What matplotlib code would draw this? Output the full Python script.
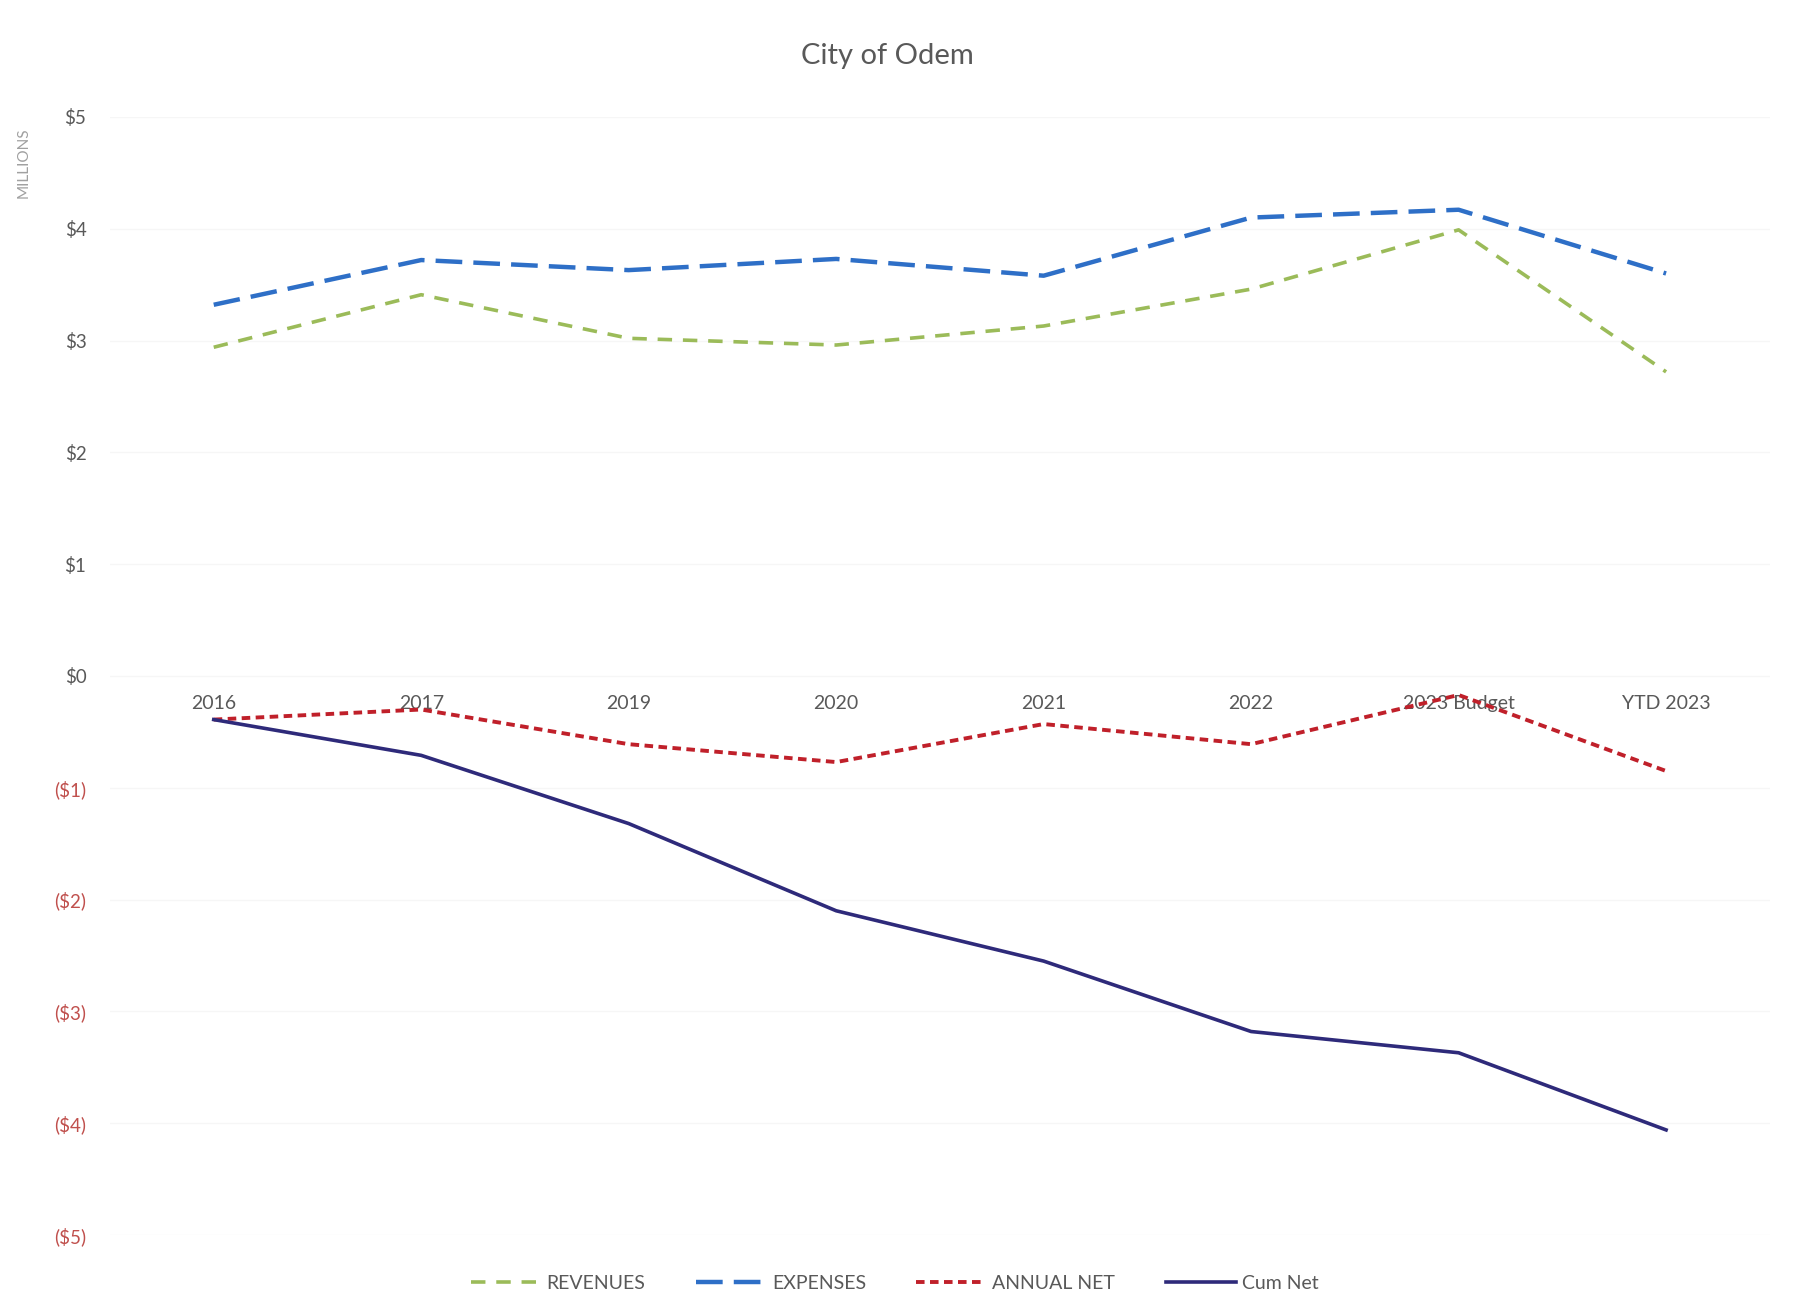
import numpy as np
import matplotlib
matplotlib.use("Agg")
import matplotlib.pyplot as plt

plt.rcParams["font.family"] = ["Lato", "DejaVu Sans"]

# ── Data ($ millions) ─────────────────────────────────────────────────────────
categories = ["2016", "2017", "2019", "2020", "2021", "2022", "2023 Budget", "YTD 2023"]
revenues   = [2.94, 3.41, 3.02, 2.96, 3.13, 3.46, 3.99, 2.72]
expenses   = [3.32, 3.72, 3.63, 3.73, 3.58, 4.10, 4.17, 3.60]
annual_net = [-0.39, -0.30, -0.61, -0.77, -0.43, -0.61, -0.17, -0.85]
cum_net    = [-0.39, -0.71, -1.32, -2.10, -2.55, -3.18, -3.37, -4.06]
y_ticks    = [5, 4, 3, 2, 1, 0, -1, -2, -3, -4, -5]

GRAY = "#595959"
RED_LBL = "#c0504d"

fig = plt.figure(figsize=(18.18, 13.08), dpi=100)
ax = fig.add_axes([0.0605, 0.0558, 0.913, 0.8548])

x = np.arange(len(categories))
ax.plot(x, revenues, color="#9bbb59", lw=2.6, ls=(0, (4, 3)), label="REVENUES")
ax.plot(x, expenses, color="#2e6fc7", lw=3.2, ls=(0, (6, 2.5)), label="EXPENSES")
ax.plot(x, annual_net, color="#c0202a", lw=2.8, ls=(0, (2.2, 1.4)), label="ANNUAL NET")
ax.plot(x, cum_net, color="#2e2a7a", lw=2.6, ls="-", label="Cum Net")

ax.set_xlim(-0.5, len(categories) - 0.5)
ax.set_ylim(-5, 5)
ax.set_yticks(y_ticks)
ax.set_yticklabels([f"${v}" if v >= 0 else f"(${-v})" for v in y_ticks])
for lbl, v in zip(ax.get_yticklabels(), y_ticks):
    lbl.set_color(GRAY if v >= 0 else RED_LBL)
ax.tick_params(axis="y", length=0, pad=17, labelsize=13.5)

# category axis crosses at zero
ax.spines["bottom"].set_position(("data", 0))
ax.set_xticks(x)
ax.set_xticklabels(categories)
ax.tick_params(axis="x", length=0, pad=14, labelsize=14, labelcolor=GRAY)
for s in ax.spines.values():
    s.set_visible(False)

ax.grid(axis="y", color="#f6f6f6", lw=1)
ax.set_axisbelow(True)

fig.text(0.488, 0.957, "City of Odem", ha="center", va="center",
         fontsize=21, color=GRAY)
fig.text(0.013, 0.876, "MILLIONS", rotation=90, ha="center", va="center",
         fontsize=11, color="#a0a0a0")

fig.legend(loc="center", bbox_to_anchor=(0.492, 0.019), ncol=4, frameon=False,
           fontsize=14, labelcolor=GRAY, handlelength=3.6, columnspacing=2.6,
           handletextpad=0.3)

fig.savefig("out.png", dpi=100)
